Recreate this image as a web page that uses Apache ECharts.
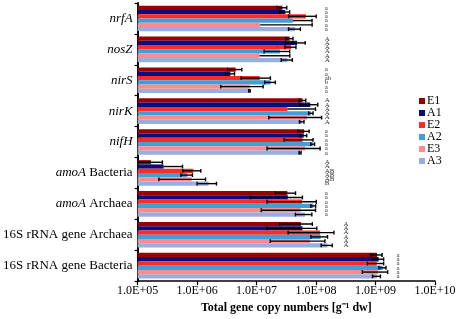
<!DOCTYPE html>
<html>
<head>
<meta charset="utf-8">
<script src="https://cdn.jsdelivr.net/npm/echarts@6/dist/echarts.min.js"></script>
<style>html,body{margin:0;padding:0;background:#fff}#c{width:459px;height:319px}</style>
</head>
<body>
<div id="c"></div>
<script>
const categories = ['nrfA','nosZ','nirS','nirK','nifH','amoA Bacteria','amoA Archaea','16S rRNA gene Archaea','16S rRNA gene Bacteria'];
const seriesNames = ['E1','A1','E2','A2','E3','A3'];
const colors = ['#990000','#0c0c7c','#ff2a2a','#3f9fd6','#ff8a90','#98aedc'];
const tickLabels = ['1.0E+05','1.0E+06','1.0E+07','1.0E+08','1.0E+09','1.0E+10'];

const meanE1 = [2.72e7, 3.6e7, 4.45e6, 5.97e7, 6.3e7, 1.68e5, 3.29e7, 5.56e7, 1.06e9];
const sdE1   = [0.5e7, 0.5e7, 1.2e6, 0.75e7, 1.35e7, 0.93e5, 1.23e7, 3.1e7, 2.3e8];
const meanA1 = [3.04e7, 4.8e7, 3.63e6, 8.0e7, 6.2e7, 2.74e5, 3.35e7, 5.9e7, 1.13e9];
const sdA1   = [0.56e7, 1.77e7, 0.63e6, 2.7e7, 0.77e7, 2.96e5, 2.56e7, 4.4e7, 2.4e8];
const meanE2 = [6.76e7, 3.8e7, 1.13e7, 3.3e7, 5.9e7, 8.65e5, 5.8e7, 1.17e8, 1.05e9];
const sdE2   = [3.3e7, 0.8e7, 0.58e7, 6.5e7, 3.0e7, 2.9e5, 4.3e7, 8.3e7, 3.2e8];
const meanA2 = [4.07e7, 2.47e7, 1.72e7, 8.2e7, 8.8e7, 6.85e5, 9.0e7, 1.19e8, 1.32e9];
const sdA2   = [4.5e7, 1.13e7, 0.35e7, 0.7e7, 0.65e7, 1.5e5, 0.85e7, 3.7e7, 1.8e8];
const meanE3 = [1.15e7, 1.12e7, 7.7e6, 7.0e7, 6.6e7, 8.08e5, 5.5e7, 7.9e7, 1.1e9];
const sdE3   = [7.45e7, 2.5e7, 5.2e6, 5.4e7, 5.1e7, 5.8e5, 4.3e7, 6.2e7, 5e8];
const meanA3 = [4.45e7, 3.3e7, 7.6e6, 5.77e7, 5.4e7, 1.56e6, 6.5e7, 1.55e8, 1.05e9];
const sdA3   = [1.0e7, 0.7e7, 0.2e6, 0.5e7, 0.2e7, 0.56e6, 2e7, 3.3e7, 1.6e8];

const lettersE1 = ['a','A','a','A','a','A','a','A','a'];
const lettersA1 = ['a','A','a','A','a','A','a','A','a'];
const lettersE2 = ['a','A','ab','A','a','AB','a','A','a'];
const lettersA2 = ['a','A','b','A','a','AB','a','A','a'];
const lettersE3 = ['a','A','a','A','a','AB','a','A','a'];
const lettersA3 = ['a','A','a','A','a','B','a','A','a'];
const letterPos = [1.4e8, 1.4e8, 1.4e8, 1.4e8, 1.4e8, 1.4e8, 1.4e8, 2.9e8, 2.25e9];

const means = [meanE1, meanA1, meanE2, meanA2, meanE3, meanA3];
const sds = [sdE1, sdA1, sdE2, sdA2, sdE3, sdA3];
const letters = [lettersE1, lettersA1, lettersE2, lettersA2, lettersE3, lettersA3];

const AXMIN = 1e5, AXMAX = 1e10;
const GAP = 0.17;
const FONT = '"Liberation Serif", "Times New Roman", serif';

const chart = echarts.init(document.getElementById('c'), null, {renderer: 'canvas'});

const series = [];
seriesNames.forEach((name, i) => {
  series.push({
    name, type: 'bar',
    data: means[i],
    itemStyle: {color: colors[i]},
    barGap: '0%', barCategoryGap: (GAP * 100) + '%',
    clip: true,
    z: 2
  });
});
seriesNames.forEach((name, i) => {
  series.push({
    type: 'custom',
    coordinateSystem: 'cartesian2d',
    silent: true,
    z: 5,
    encode: {x: 1, y: 0},
    data: categories.map((c, k) => [k, means[i][k], sds[i][k]]),
    renderItem: function (params, api) {
      const k = api.value(0);
      const m = api.value(1);
      const s = api.value(2);
      const band = api.size([1, 1])[1];
      const w = band * (1 - GAP) / seriesNames.length;
      const off = -band * (1 - GAP) / 2 + w * (i + 0.5);
      const c = api.coord([m, k]);
      const y = c[1] + off;
      const hi = api.coord([m + s, k])[0];
      const children = [];
      const ls = {stroke: '#000', lineWidth: 1.4};
      let lo = c[0];
      let loCap = false;
      if (m - s > 0) {
        const lv = Math.max(m - s, AXMIN);
        lo = api.coord([lv, k])[0];
        loCap = (m - s) >= AXMIN;
      }
      children.push({type: 'line', shape: {x1: lo, y1: y, x2: hi, y2: y}, style: ls});
      const ch = w * 0.45;
      children.push({type: 'line', shape: {x1: hi, y1: y - ch, x2: hi, y2: y + ch}, style: ls});
      if (loCap) children.push({type: 'line', shape: {x1: lo, y1: y - ch, x2: lo, y2: y + ch}, style: ls});
      const lx = api.coord([letterPos[k], k])[0];
      children.push({type: 'text', style: {text: letters[i][k], x: lx, y: y, fill: '#333', font: '7px ' + FONT, align: 'left', verticalAlign: 'middle'}});
      return {type: 'group', children};
    }
  });
});

function labelFmt(v) {
  if (v.indexOf('amoA') === 0) return '{i|amoA}' + v.slice(4);
  if (v.indexOf('16S') === 0) return v;
  return '{i|' + v + '}';
}

chart.setOption({
  animation: false,
  backgroundColor: '#fff',
  textStyle: {fontFamily: FONT},
  grid: {left: 126, right: 24, top: 3, bottom: 34, containLabel: false},
  legend: {
    data: seriesNames, orient: 'vertical', left: 414, top: 90,
    icon: 'rect', itemWidth: 6, itemHeight: 6, itemGap: 0,
    textStyle: {fontFamily: FONT, fontSize: 12, color: '#000', lineHeight: 11.6, padding: [0, 0, 0, -3]}
  },
  xAxis: {
    type: 'log', logBase: 10, min: AXMIN, max: AXMAX,
    name: 'Total gene copy numbers [g\u207B\u00B9 dw]',
    nameLocation: 'middle', nameGap: 17,
    nameTextStyle: {fontFamily: FONT, fontSize: 12, fontWeight: 'bold', color: '#000'},
    axisLine: {show: true, lineStyle: {color: '#000', width: 1.5}},
    axisTick: {show: true, length: 4, lineStyle: {color: '#000', width: 1.2}},
    minorTick: {show: false},
    splitLine: {show: false},
    axisLabel: {
      fontFamily: FONT, fontSize: 12, color: '#000', margin: 4,
      formatter: function (v) { const e = Math.round(Math.log10(v)) - 5; return tickLabels[e] || ''; }
    }
  },
  yAxis: {
    type: 'category', data: categories, inverse: true,
    axisLine: {show: true, lineStyle: {color: '#000', width: 2}},
    axisTick: {show: true, length: 3, lineStyle: {color: '#000', width: 1.2}},
    splitLine: {show: false},
    axisLabel: {
      fontFamily: FONT, fontSize: 13, color: '#000', margin: 5,
      formatter: labelFmt,
      rich: {i: {fontStyle: 'italic', fontFamily: FONT, fontSize: 13, color: '#000'}}
    }
  },
  series
});
</script>
</body>
</html>
